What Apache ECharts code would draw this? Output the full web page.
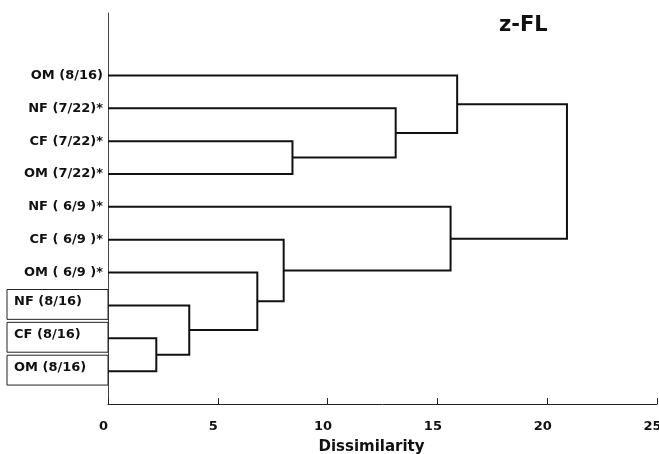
<!DOCTYPE html>
<html>
<head>
<meta charset="utf-8">
<script src="https://cdn.jsdelivr.net/npm/echarts@6/dist/echarts.min.js"></script>
<style>
  html, body { margin: 0; padding: 0; background: #fff; }
  #chart { width: 659px; height: 454px; }
</style>
</head>
<body>
<div id="chart"></div>
<script>
// leaves, top to bottom
const leafNames = [
  "OM (8/16)",
  "NF (7/22)*",
  "CF (7/22)*",
  "OM (7/22)*",
  "NF ( 6/9 )*",
  "CF ( 6/9 )*",
  "OM ( 6/9 )*",
  "NF (8/16)",
  "CF (8/16)",
  "OM (8/16)"
];
// leaves drawn inside a box
const boxedLeaves = [7, 8, 9];

// linkage: node ids 0..9 are leaves, each merge creates node 10, 11, ...
const mergeLeft = [8, 7, 6, 5, 2, 1, 4, 0, 17];
const mergeRight = [9, 10, 11, 12, 3, 14, 13, 15, 16];
const mergeHeight = [2.2, 3.7, 6.8, 8.0, 8.4, 13.1, 15.6, 15.9, 20.9];

const xTicks = [0, 5, 10, 15, 20, 25];

const n = leafNames.length;
const nodeY = leafNames.map((_, i) => i);
const nodeH = leafNames.map(() => 0);
mergeHeight.forEach((h, k) => {
  nodeY.push((nodeY[mergeLeft[k]] + nodeY[mergeRight[k]]) / 2);
  nodeH.push(h);
});

const font = "bold 13px 'DejaVu Sans'";

const chart = echarts.init(document.getElementById("chart"));
const option = {
  animation: false,
  title: {
    text: "z-FL",
    left: 494,
    top: 10,
    textStyle: {
      fontFamily: "DejaVu Sans",
      fontWeight: "bold",
      fontSize: 21,
      color: "#111",
    },
  },
  grid: {
    left: 108,
    right: 2,
    top: 13,
    bottom: 50,
    containLabel: false,
    outerBoundsMode: "none",
  },
  xAxis: {
    type: "value",
    min: xTicks[0],
    max: xTicks[xTicks.length - 1],
    interval: 5,
    name: "Dissimilarity",
    nameLocation: "middle",
    nameGap: 36,
    nameTextStyle: {
      fontFamily: "DejaVu Sans",
      fontWeight: "bold",
      fontSize: 15,
      color: "#111",
      padding: [0, 22, 0, 0],
    },
    axisLine: { show: true, onZero: false, lineStyle: { color: "#222", width: 1 } },
    axisTick: { show: true, inside: true, length: 6, lineStyle: { color: "#222" } },
    axisLabel: {
      fontFamily: "DejaVu Sans",
      fontWeight: "bold",
      fontSize: 13,
      color: "#111",
      margin: 16,
      padding: [0, 9, 0, 0],
    },
    splitLine: { show: false },
  },
  yAxis: {
    type: "value",
    inverse: true,
    min: -1.9,
    max: 10,
    axisLine: { show: true, onZero: false, lineStyle: { color: "#444", width: 1 } },
    axisTick: { show: false },
    axisLabel: { show: false },
    splitLine: { show: false },
  },
  series: [
    {
      type: "custom",
      name: "links",
      data: mergeHeight.map((h, k) => [h, nodeY[n + k], k]),
      renderItem: function (params, api) {
        const k = api.value(2);
        const h = api.value(0);
        const a = mergeLeft[k];
        const b = mergeRight[k];
        const points = [
          api.coord([nodeH[a], nodeY[a]]),
          api.coord([h, nodeY[a]]),
          api.coord([h, nodeY[b]]),
          api.coord([nodeH[b], nodeY[b]]),
        ];
        return {
          type: "polyline",
          shape: { points: points },
          style: { stroke: "#111", lineWidth: 2, fill: null },
        };
      },
    },
    {
      type: "custom",
      name: "leaves",
      data: leafNames.map((name, i) => [0, i]),
      renderItem: function (params, api) {
        const i = api.value(1);
        const p = api.coord([0, i]);
        const step = api.size([0, 1])[1];
        if (boxedLeaves.indexOf(i) >= 0) {
          const bh = step - 3;
          return {
            type: "group",
            children: [
              {
                type: "rect",
                shape: { x: p[0] - 101, y: p[1] - bh / 2 - 1, width: 101, height: bh },
                style: { fill: null, stroke: "#222", lineWidth: 1 },
              },
              {
                type: "text",
                style: {
                  text: leafNames[i],
                  x: p[0] - 94,
                  y: p[1] - 4,
                  align: "left",
                  verticalAlign: "middle",
                  font: font,
                  fill: "#111",
                },
              },
            ],
          };
        }
        return {
          type: "text",
          style: {
            text: leafNames[i],
            x: p[0] - 5,
            y: p[1],
            align: "right",
            verticalAlign: "middle",
            font: font,
            fill: "#111",
          },
        };
      },
    },
  ],
};
chart.setOption(option);
</script>
</body>
</html>
